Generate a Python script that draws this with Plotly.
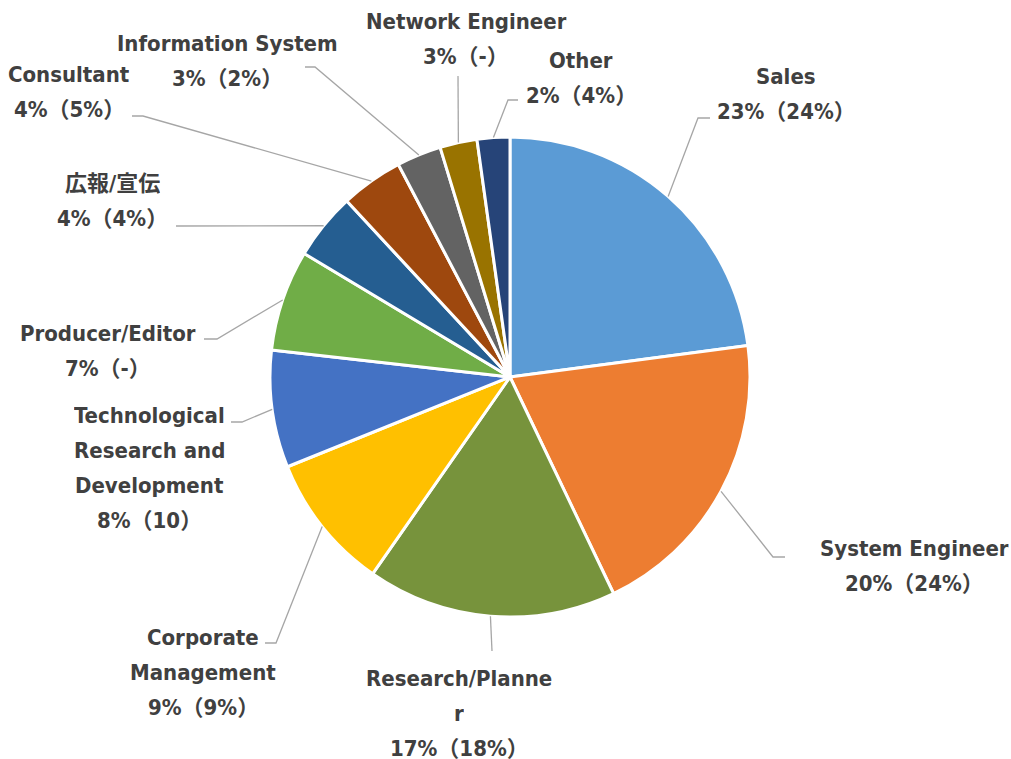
import math
import plotly.graph_objects as go

# ---------------- data ----------------
categories = ["Sales", "System Engineer", "Research/Planner", "Corporate Management",
              "Technological Research and Development", "Producer/Editor", "広報/宣伝",
              "Consultant", "Information System", "Network Engineer", "Other"]
shares = [22.9, 20.0, 16.8, 9.2, 7.9, 6.8, 4.5, 4.2, 3.0, 2.5, 2.2]
label_lines = [
    ["Sales", "23%（24%）"],
    ["System Engineer", "20%（24%）"],
    ["Research/Planne", "r", "17%（18%）"],
    ["Corporate", "Management", "9%（9%）"],
    ["Technological", "Research and", "Development", "8%（10）"],
    ["Producer/Editor", "7%（-）"],
    ["広報/宣伝", "4%（4%）"],
    ["Consultant", "4%（5%）"],
    ["Information System", "3%（2%）"],
    ["Network Engineer", "3%（-）"],
    ["Other", "2%（4%）"],
]
colors = ["#5B9BD5", "#ED7D31", "#77933C", "#FFC000", "#4472C4", "#70AD47",
          "#255E91", "#9E480E", "#636363", "#997300", "#264478"]

# ---------------- layout constants (pixels in the page) ----------------
W, H = 1011, 759
CX, CY, R = 510, 377, 240
# label first-line centre (x, y) in pixels
label_pos = [(786, 76), (914, 548), (459, 678), (203, 637), (149, 415), (108, 333),
             (112, 183), (69, 74), (227, 43), (466, 21), (581, 60)]
# leader line elbow and end points in pixels
leader = [((698, 118), (710, 118)), ((773, 557), (785, 557)), ((492, 651), (492, 651)),
          ((276, 643), (265, 643)), ((242, 422), (231, 422)), ((217, 339), (204, 339)),
          ((176, 226), (176, 226)), ((143, 116), (132, 116)), ((315, 67), (305, 67)),
          ((458, 76), (458, 76)), ((508, 100), (518, 100))]
LINE_GAP = 35
FONT = "DejaVu Sans Condensed, DejaVu Sans, Noto Sans CJK JP"
TXT = "#404040"


def px(x):
    return x / W


def py(y):
    return 1 - y / H


fig = go.Figure(go.Pie(
    labels=categories, values=shares, sort=False, direction="clockwise", rotation=0,
    marker=dict(colors=colors, line=dict(color="white", width=3)),
    textinfo="none", hoverinfo="label+percent", showlegend=False,
    domain=dict(x=[px(CX - R), px(CX + R)], y=[py(CY + R), py(CY - R)]),
))

annotations = []
shapes = []
total = sum(shares)
cum = 0.0
for i, v in enumerate(shares):
    mid = (cum + v / 2) / total * 2 * math.pi
    cum += v
    sx = CX + R * math.sin(mid)
    sy = CY - R * math.cos(mid)
    (ex, ey), (fx, fy) = leader[i]
    shapes.append(dict(type="path", xref="paper", yref="paper",
                       path=f"M {px(sx)} {py(sy)} L {px(ex)} {py(ey)} L {px(fx)} {py(fy)}",
                       line=dict(color="#A6A6A6", width=1.3)))
    lx, ly = label_pos[i]
    for j, t in enumerate(label_lines[i]):
        annotations.append(dict(x=px(lx), y=py(ly + j * LINE_GAP), xref="paper", yref="paper",
                                text=f"<b>{t}</b>", showarrow=False, xanchor="center",
                                yanchor="middle", height=24, valign="middle", borderpad=0,
                                font=dict(family=FONT, size=22, color=TXT)))

fig.update_layout(width=W, height=H, margin=dict(l=0, r=0, t=0, b=0),
                  paper_bgcolor="white", plot_bgcolor="white",
                  annotations=annotations, shapes=shapes)

fig.write_html("out.html", config={"displayModeBar": False},
               post_script="document.body.style.margin='0';"
                           "document.documentElement.style.overflow='hidden';")
